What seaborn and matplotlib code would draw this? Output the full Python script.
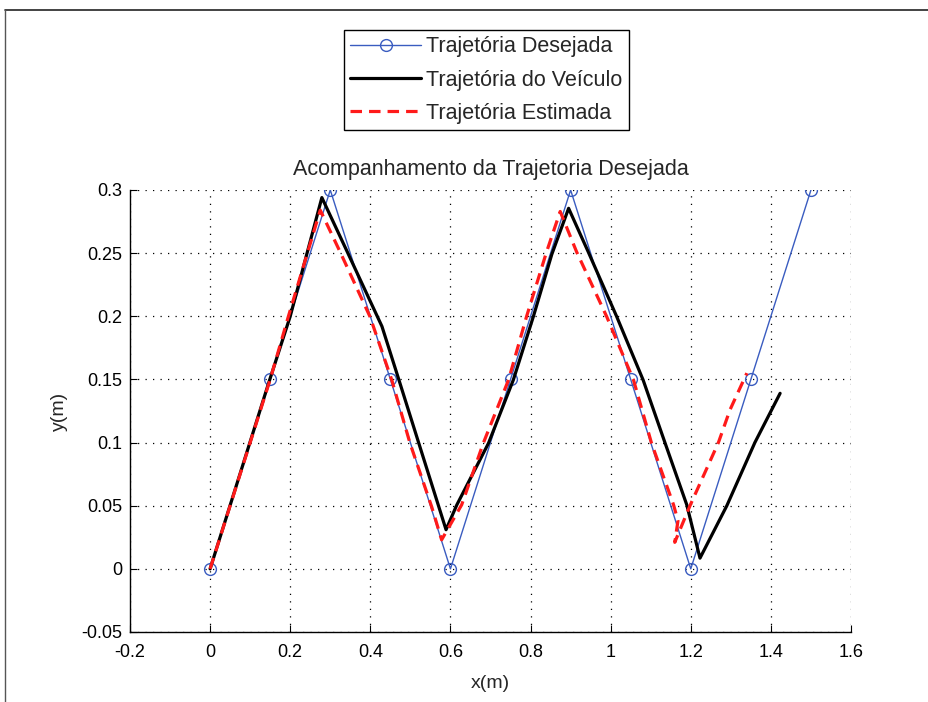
import matplotlib
matplotlib.use("Agg")
import matplotlib.pyplot as plt
from matplotlib.lines import Line2D
from matplotlib.ticker import FuncFormatter, MultipleLocator
import seaborn as sns

# Desired trajectory (waypoints)
desired_x = [0, 0.15, 0.3, 0.45, 0.6, 0.75, 0.9, 1.05, 1.2, 1.35, 1.5]
desired_y = [0, 0.15, 0.3, 0.15, 0, 0.15, 0.3, 0.15, 0, 0.15, 0.3]

# Vehicle trajectory
vehicle_x = [0, 0.146, 0.2, 0.279, 0.341, 0.429, 0.47, 0.52, 0.589,
             0.616, 0.695, 0.757, 0.807, 0.853, 0.895,
             0.944, 1.015, 1.081, 1.136, 1.19, 1.223,
             1.29, 1.36, 1.423]
vehicle_y = [0, 0.147, 0.2, 0.294, 0.252, 0.192, 0.151, 0.1005, 0.031,
             0.0507, 0.0995, 0.1496, 0.1998, 0.249, 0.2855,
             0.251, 0.1998, 0.1496, 0.0995, 0.0507, 0.0085,
             0.050, 0.100, 0.139]

# Estimated trajectory
estimated_x = [0, 0.15, 0.1955, 0.275, 0.3245, 0.399, 0.4535, 0.499, 0.553, 0.578,
               0.628, 0.682, 0.745, 0.79, 0.84, 0.874,
               0.915, 0.99, 1.057, 1.102, 1.157, 1.168,
               1.16, 1.198, 1.269, 1.298, 1.34]
estimated_y = [0, 0.15, 0.2, 0.284, 0.251, 0.1998, 0.1496, 0.0995, 0.0493, 0.023,
               0.0507, 0.0995, 0.1496, 0.1998, 0.251, 0.283,
               0.251, 0.1998, 0.1496, 0.0995, 0.0507, 0.038,
               0.021, 0.050, 0.100, 0.126, 0.155]

title_text = "Acompanhamento da Trajetoria Desejada"
labels = ["Trajetória Desejada", "Trajetória do Veículo", "Trajetória Estimada"]

sns.set_style("white")
plt.rcParams["font.family"] = ["Liberation Sans", "DejaVu Sans"]
FS_TICK = 13
FS_TEXT = 15.5

fig = plt.figure(figsize=(9.29, 7.02), dpi=100)
ax = fig.add_axes([130 / 929, 1 - 632 / 702, (851 - 130) / 929, (632 - 190) / 702])

blue = "#3a5cc0"
sns.lineplot(x=desired_x, y=desired_y, sort=False, estimator=None, ax=ax,
             color=blue, linewidth=1.0, marker="o", markersize=8.5,
             markerfacecolor="none", markeredgecolor=blue, markeredgewidth=1.0,
             label=labels[0])
sns.lineplot(x=vehicle_x, y=vehicle_y, sort=False, estimator=None, ax=ax,
             color="black", linewidth=2.3, label=labels[1])
sns.lineplot(x=estimated_x, y=estimated_y, sort=False, estimator=None, ax=ax,
             color="#ff1a1a", linewidth=2.3, linestyle=(0, (3.6, 2.2)),
             label=labels[2])

ax.set_xlim(-0.2, 1.6)
ax.set_ylim(-0.05, 0.3)
ax.xaxis.set_major_locator(MultipleLocator(0.2))
ax.yaxis.set_major_locator(MultipleLocator(0.05))
fmt = FuncFormatter(lambda v, p: "%g" % round(v, 4))
ax.xaxis.set_major_formatter(fmt)
ax.yaxis.set_major_formatter(fmt)

ax.grid(True, color="black", linestyle=(0, (1, 5)), linewidth=0.9)
for side in ["top", "right"]:
    ax.spines[side].set_visible(False)
for side in ["left", "bottom"]:
    ax.spines[side].set_color("black")
    ax.spines[side].set_linewidth(1.0)
ax.tick_params(direction="in", length=5, width=0.8, labelsize=FS_TICK,
               colors="black", left=True, bottom=True)
ax.tick_params(axis="x", pad=8.5)
ax.tick_params(axis="y", pad=5.5)

ax.set_title(title_text, fontsize=FS_TEXT, pad=11)
ax.set_xlabel("x(m)", fontsize=FS_TICK + 1, labelpad=10.5)
ax.set_ylabel("y(m)", fontsize=FS_TICK + 1, labelpad=9.5)

handles, labs = ax.get_legend_handles_labels()
ax.get_legend().remove()
leg = fig.legend(handles, labs, loc="upper left",
                 bbox_to_anchor=(344 / 929, 1 - 30 / 702),
                 fontsize=FS_TEXT, frameon=True, fancybox=False, framealpha=1,
                 edgecolor="black", handlelength=3.3, handletextpad=0.2,
                 borderpad=0.3, labelspacing=0.57, borderaxespad=0,
                 numpoints=1)
leg.get_frame().set_linewidth(1.0)

# Window frame edges
fig.add_artist(Line2D([5 / 929, 1], [1 - 10 / 702, 1 - 10 / 702],
                      transform=fig.transFigure, color="#222222", linewidth=1.2))
fig.add_artist(Line2D([5 / 929, 5 / 929], [0, 1 - 10 / 702],
                      transform=fig.transFigure, color="#555555", linewidth=1.0))

fig.savefig("out.png", dpi=100)
